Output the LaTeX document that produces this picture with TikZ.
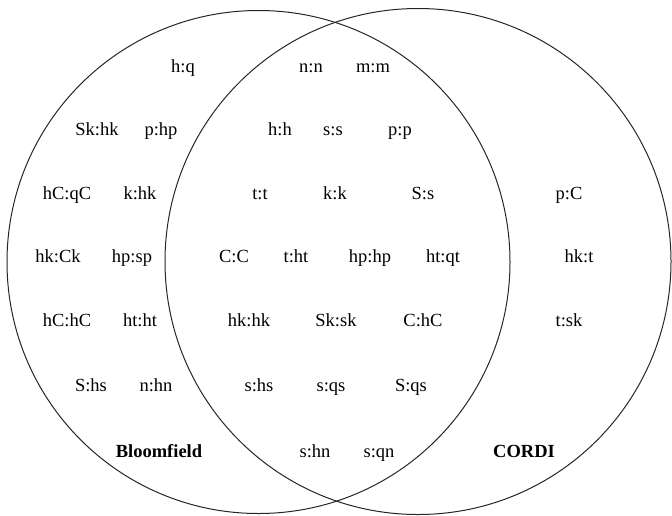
\documentclass[tikz,border=0pt]{standalone}
\usepackage{fontspec}
\setmainfont{Liberation Serif}
\begin{document}
\begin{tikzpicture}[x=1pt,y=-1pt,
  setline/.style={line width=1pt,draw=black!85},
  pair/.style={anchor=base,inner sep=0pt,font=\fontsize{18.5}{20}\selectfont},
  setname/.style={pair,font=\fontsize{18.5}{20}\selectfont\bfseries}]
\useasboundingbox (0,0) rectangle (672,515);
% the two sets
\node[setline,circle,minimum size=503pt,inner sep=0pt] (bloom) at (258.5,262) {};
\node[setline,circle,minimum size=506pt,inner sep=0pt] (cordi) at (418,261.5) {};
% row 1
\node[pair] (a1) at (183,72) {h:q};
\node[pair] (a2) at (311,72) {n:n};
\node[pair] (a3) at (373,72) {m:m};
% row 2
\node[pair] (b1) at (97,135) {Sk:hk};
\node[pair] (b2) at (161,135) {p:hp};
\node[pair] (b3) at (280,135) {h:h};
\node[pair] (b4) at (333,135) {s:s};
\node[pair] (b5) at (400,135) {p:p};
% row 3
\node[pair] (c1) at (67,199) {hC:qC};
\node[pair] (c2) at (140,199) {k:hk};
\node[pair] (c3) at (260,199) {t:t};
\node[pair] (c4) at (335,199) {k:k};
\node[pair] (c5) at (423,199) {S:s};
\node[pair] (c6) at (569,199) {p:C};
% row 4
\node[pair] (d1) at (58,262) {hk:Ck};
\node[pair] (d2) at (132,262) {hp:sp};
\node[pair] (d3) at (234,262) {C:C};
\node[pair] (d4) at (296,262) {t:ht};
\node[pair] (d5) at (370,262) {hp:hp};
\node[pair] (d6) at (443,262) {ht:qt};
\node[pair] (d7) at (579,262) {hk:t};
% row 5
\node[pair] (e1) at (67,326) {hC:hC};
\node[pair] (e2) at (140,326) {ht:ht};
\node[pair] (e3) at (249,326) {hk:hk};
\node[pair] (e4) at (336,326) {Sk:sk};
\node[pair] (e5) at (423,326) {C:hC};
\node[pair] (e6) at (569,326) {t:sk};
% row 6
\node[pair] (f1) at (91,391) {S:hs};
\node[pair] (f2) at (156,391) {n:hn};
\node[pair] (f3) at (259,391) {s:hs};
\node[pair] (f4) at (331,391) {s:qs};
\node[pair] (f5) at (411,391) {S:qs};
% row 7
\node[setname] (bname) at (159,457) {Bloomfield};
\node[pair] (g1) at (315,457) {s:hn};
\node[pair] (g2) at (379,457) {s:qn};
\node[setname] (cname) at (524,457) {CORDI};
\end{tikzpicture}
\end{document}
